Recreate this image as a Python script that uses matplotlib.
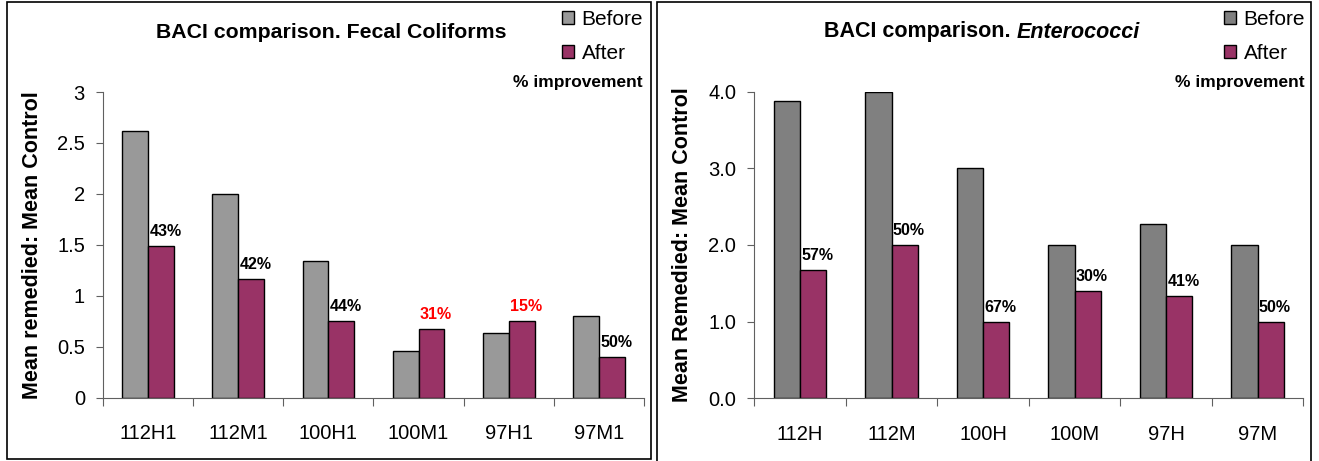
import matplotlib
matplotlib.use('Agg')
import matplotlib.pyplot as plt
import matplotlib.patches as mpatches
import numpy as np

plt.rcParams['font.family'] = ['Liberation Sans', 'DejaVu Sans']

# data
fc_sites = ['112H1', '112M1', '100H1', '100M1', '97H1', '97M1']
fc_before = [2.62, 2.00, 1.34, 0.46, 0.63, 0.80]
fc_after = [1.49, 1.16, 0.75, 0.67, 0.75, 0.40]
fc_improve = ['43%', '42%', '44%', '31%', '15%', '50%']
fc_improve_color = ['black', 'black', 'black', 'red', 'red', 'black']

ent_sites = ['112H', '112M', '100H', '100M', '97H', '97M']
ent_before = [3.88, 4.00, 3.00, 2.00, 2.27, 2.00]
ent_after = [1.68, 2.00, 1.00, 1.40, 1.34, 1.00]
ent_improve = ['57%', '50%', '67%', '30%', '41%', '50%']
ent_improve_color = ['black'] * 6

AFTER_COLOR = '#993366'
AXIS_COLOR = '#606060'
W, H = 1319, 461


def px(x0, y0, x1, y1):
    """pixel box (top-left origin) -> figure fraction rect"""
    return [x0 / W, 1 - y1 / H, (x1 - x0) / W, (y1 - y0) / H]


def draw_panel(ax, sites, before, after, labels, label_colors, before_color, ymax, ystep, fmt, ylabel):
    x = np.arange(len(sites))
    bw = 1 / 3.5
    ax.bar(x - bw / 2, before, bw, color=before_color, edgecolor='black', linewidth=1, label='Before')
    ax.bar(x + bw / 2, after, bw, color=AFTER_COLOR, edgecolor='black', linewidth=1, label='After')

    for xi, v, lab, c in zip(x, after, labels, label_colors):
        ax.annotate(lab, xy=(xi, v), xytext=(1, 5), textcoords='offset points',
                    ha='left', va='bottom', fontsize=11.5, fontweight='bold', color=c)

    ax.set_xlim(-0.5, len(sites) - 0.5)
    ax.set_ylim(0, ymax)
    ticks = np.arange(0, ymax + 1e-9, ystep)
    ax.set_yticks(ticks)
    ax.set_yticklabels([fmt % t for t in ticks])
    ax.set_xticks(np.arange(-0.5, len(sites)), labels=[''] * (len(sites) + 1))
    ax.set_xticks(x, minor=True)
    ax.set_xticklabels(sites, minor=True)
    ax.tick_params(axis='x', which='major', length=6, width=0.8, direction='out', color=AXIS_COLOR)
    ax.tick_params(axis='x', which='minor', length=0, pad=19, labelsize=14.5)
    ax.tick_params(axis='y', length=5, width=0.8, pad=8, labelsize=14.5, color=AXIS_COLOR)
    for s in ['top', 'right']:
        ax.spines[s].set_visible(False)
    for s in ['left', 'bottom']:
        ax.spines[s].set_linewidth(0.8)
        ax.spines[s].set_color(AXIS_COLOR)
    ax.set_ylabel(ylabel, fontsize=15.5, fontweight='bold', va='center')


fig = plt.figure(figsize=(W / 100, H / 100), dpi=100)

# panel frames
fig.add_artist(mpatches.Rectangle((7 / W, 1 - 459 / H), 644 / W, 457 / H, transform=fig.transFigure,
                                  fill=False, edgecolor='black', linewidth=1.2))
fig.add_artist(mpatches.Rectangle((657 / W, -0.05), 654 / W, 1 - 2 / H + 0.05, transform=fig.transFigure,
                                  fill=False, edgecolor='black', linewidth=1.2))

ax1 = fig.add_axes(px(103, 92, 644, 397.5))
draw_panel(ax1, fc_sites, fc_before, fc_after, fc_improve, fc_improve_color,
           '#999999', 3, 0.5, '%g', 'Mean remedied: Mean Control')
ax1.yaxis.set_label_coords(-0.130, 0.5)

ax2 = fig.add_axes(px(754.3, 91.7, 1303.3, 398.3))
draw_panel(ax2, ent_sites, ent_before, ent_after, ent_improve, ent_improve_color,
           '#808080', 4, 1.0, '%.1f', 'Mean Remedied: Mean Control')
ax2.yaxis.set_label_coords(-0.130, 0.5)

# titles
fig.text(331 / W, 1 - 32 / H, 'BACI comparison. Fecal Coliforms', ha='center', va='center',
         fontsize=15.3, fontweight='bold')
fig.text(1017 / W, 1 - 32 / H, 'BACI comparison. ', ha='right', va='center',
         fontsize=15.5, fontweight='bold')
fig.text(1017 / W, 1 - 32 / H, 'Enterococci', ha='left', va='center',
         fontsize=15.5, fontweight='bold', style='italic')

# legends + "% improvement"
for ax, xr in [(ax1, 643), (ax2, 1305)]:
    ax.legend(loc='upper right', bbox_to_anchor=(xr / W, 1 - 10 / H), bbox_transform=fig.transFigure,
              frameon=False, fontsize=15, handlelength=0.6, handleheight=0.6,
              handletextpad=0.35, labelspacing=0.7, borderpad=0, borderaxespad=0)
    fig.text(xr / W, 1 - 83 / H, '% improvement', ha='right', va='center',
             fontsize=12.5, fontweight='bold')

fig.savefig('out.png', dpi=100)
